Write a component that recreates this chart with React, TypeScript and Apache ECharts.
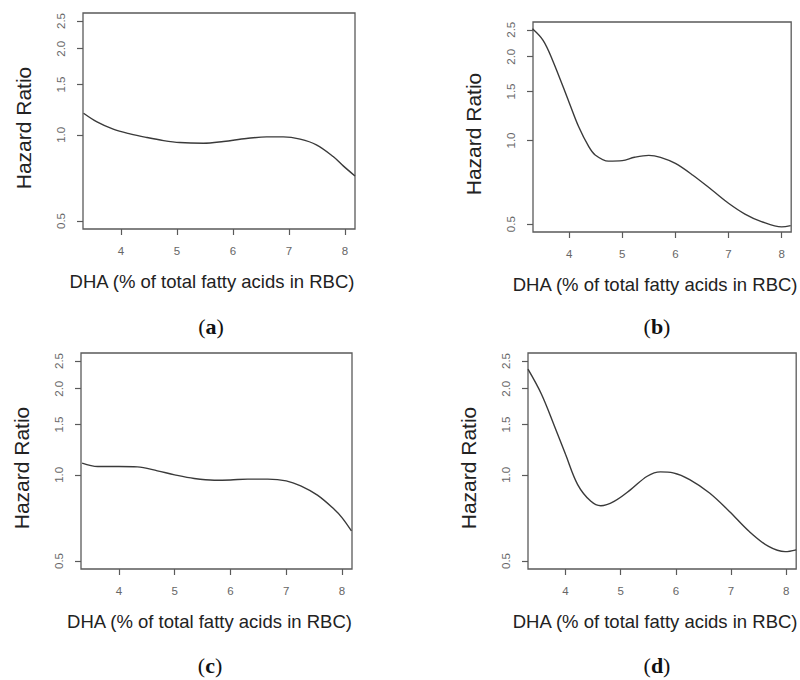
import React, { useEffect, useRef } from "react";
import * as echarts from "echarts";

const panelLabels = ["a", "b", "c", "d"];
const yTicks = [0.5, 1.0, 1.5, 2.0, 2.5];
const xTicks = [4, 5, 6, 7, 8];
const xTitle = "DHA (% of total fatty acids in RBC)";
const yTitle = "Hazard Ratio";

const aX = [3.33, 3.57, 3.86, 4.16, 4.46, 4.76, 5.05, 5.47, 5.83, 6.24, 6.6, 6.9, 7.2, 7.49, 7.79, 7.97, 8.18];
const aY = [1.19, 1.11, 1.047, 1.008, 0.979, 0.955, 0.94, 0.935, 0.948, 0.971, 0.984, 0.984, 0.966, 0.923, 0.84, 0.779, 0.718];

const bX = [3.31, 3.51, 3.69, 4.0, 4.18, 4.37, 4.49, 4.74, 5.0, 5.23, 5.5, 5.72, 6.0, 6.33, 6.7, 7.0, 7.31, 7.62, 8.0, 8.17];
const bY = [2.52, 2.29, 1.94, 1.37, 1.12, 0.95, 0.887, 0.843, 0.846, 0.87, 0.884, 0.87, 0.827, 0.75, 0.661, 0.595, 0.544, 0.511, 0.489, 0.494];

const cX = [3.34, 3.62, 4.0, 4.33, 4.69, 5.0, 5.35, 5.71, 6.0, 6.31, 6.67, 7.0, 7.26, 7.56, 7.86, 8.0, 8.17];
const cY = [1.099, 1.069, 1.069, 1.066, 1.033, 1.0, 0.971, 0.958, 0.96, 0.966, 0.966, 0.953, 0.915, 0.849, 0.758, 0.709, 0.637];

const dX = [3.32, 3.56, 3.8, 4.0, 4.22, 4.46, 4.64, 4.88, 5.18, 5.48, 5.72, 5.95, 6.25, 6.61, 6.97, 7.33, 7.68, 7.98, 8.18];
const dY = [2.34, 1.92, 1.48, 1.18, 0.925, 0.808, 0.78, 0.808, 0.888, 0.989, 1.024, 1.016, 0.963, 0.864, 0.745, 0.634, 0.562, 0.539, 0.547];

const seriesX = [aX, bX, cX, dX];
const seriesY = [aY, bY, cY, dY];

const grids = [
  { left: 83, top: 13, width: 272, height: 216 },
  { left: 533, top: 22, width: 264, height: 210 },
  { left: 81, top: 353, width: 271, height: 216 },
  { left: 528, top: 353, width: 271, height: 216 },
];
const labelPos = [
  [211, 326],
  [657, 326],
  [210, 665],
  [657, 665],
];

const FONT = "Liberation Sans, Arial, sans-serif";
const SERIF = "Liberation Serif, Times New Roman, serif";

export default function App() {
  const ref = useRef<HTMLDivElement>(null);
  useEffect(() => {
    if (!ref.current) return;
    const chart = echarts.init(ref.current, null, { renderer: "svg" });
    const option: any = {
      animation: false,
      backgroundColor: "#ffffff",
      grid: grids.map((g) => ({
        ...g,
        show: true,
        borderColor: "#5a5a5a",
        borderWidth: 1.3,
        backgroundColor: "transparent",
        containLabel: false,
      })),
      xAxis: grids.map((g, i) => ({
        type: "value",
        gridIndex: i,
        min: 3.32,
        max: 8.18,
        splitLine: { show: false },
        axisLine: { show: false },
        axisTick: {
          show: true,
          customValues: xTicks,
          length: 6,
          lineStyle: { color: "#5a5a5a", width: 1.2 },
        },
        axisLabel: {
          customValues: xTicks,
          margin: 16,
          color: "#666",
          fontSize: 11.5,
          fontFamily: FONT,
          formatter: (v: number) => String(v),
        },
        name: xTitle,
        nameLocation: "middle",
        nameGap: 43,
        nameTextStyle: { color: "#222", fontSize: 18.5, fontFamily: FONT, padding: [0, 14, 0, 0] },
      })),
      yAxis: grids.map((g, i) => ({
        type: "log",
        gridIndex: i,
        min: 0.4688,
        max: 2.666,
        splitLine: { show: false },
        minorTick: { show: false },
        axisLine: { show: false },
        axisTick: {
          show: true,
          customValues: yTicks,
          length: 6,
          lineStyle: { color: "#5a5a5a", width: 1.2 },
        },
        axisLabel: {
          customValues: yTicks,
          rotate: 90,
          margin: 16,
          color: "#666",
          fontSize: 11.5,
          fontFamily: FONT,
          formatter: (v: number) => v.toFixed(1),
        },
        name: yTitle,
        nameLocation: "middle",
        nameGap: 49,
        nameTextStyle: { color: "#222", fontSize: 21, fontFamily: FONT, padding: [0, 14, 0, 0] },
      })),
      series: seriesX.map((xs, i) => ({
        type: "line",
        xAxisIndex: i,
        yAxisIndex: i,
        data: xs.map((x, j) => [x, seriesY[i][j]]),
        smooth: 0.35,
        showSymbol: false,
        symbol: "none",
        lineStyle: { color: "#3a3a3a", width: 1.4 },
        clip: true,
      })),
      graphic: panelLabels.map((l, i) => ({
        type: "text",
        x: labelPos[i][0],
        y: labelPos[i][1],
        style: {
          text: "{p|(}{b|" + l + "}{p|)}",
          align: "center",
          verticalAlign: "middle",
          rich: {
            p: { fontFamily: SERIF, fontSize: 22, fill: "#111" },
            b: { fontFamily: SERIF, fontSize: 22, fontWeight: "bold", fill: "#111" },
          },
        },
      })),
    };
    chart.setOption(option);
    return () => chart.dispose();
  }, []);
  return (
    <div
      ref={ref}
      style={{ position: "fixed", left: 0, top: 0, width: 800, height: 680, background: "#fff" }}
    />
  );
}
